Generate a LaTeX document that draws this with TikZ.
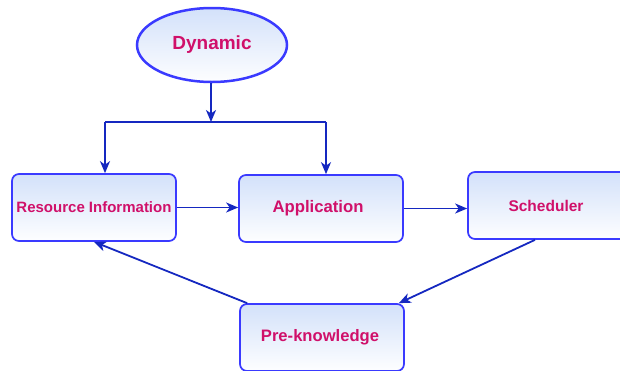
\documentclass[tikz,border=0pt]{standalone}
\usepackage{fontspec}
\setmainfont{Liberation Sans}
\usetikzlibrary{shapes.geometric,arrows.meta}
\definecolor{edgeblue}{HTML}{3A3AFF}
\definecolor{linkblue}{HTML}{1528C0}
\definecolor{labelred}{HTML}{D0106A}
\definecolor{fillblue}{HTML}{D3E1FA}
\tikzset{
  box/.style={draw=edgeblue, line width=1.7pt, rounded corners=7pt,
    top color=fillblue, bottom color=white!97!fillblue,
    minimum width=164pt, minimum height=67pt, inner sep=0pt,
    text=labelred, font=\bfseries},
  oval/.style={ellipse, draw=edgeblue, line width=2.5pt,
    top color=fillblue, bottom color=white!96!fillblue,
    minimum width=150pt, minimum height=74pt, inner sep=0pt,
    text=labelred, font=\fontsize{19}{22}\selectfont\bfseries},
  link/.style={draw=linkblue, line width=1.8pt,
    -{Stealth[length=12pt,width=10pt,inset=3.5pt]}},
  plain/.style={draw=linkblue, line width=1.8pt}
}
\begin{document}
\begin{tikzpicture}[x=1pt,y=-1pt]
\useasboundingbox (0,0) rectangle (620,370);
\begin{scope}
\clip (0,0) rectangle (620,370);
% nodes
\node[oval] (dyn) at (212,45) {\raisebox{-1.5pt}{Dynamic}};
\node[box, font=\fontsize{15}{18}\selectfont\bfseries] (res) at (94,207.5) {Resource Information};
\node[box, font=\fontsize{16.7}{20}\selectfont\bfseries] (app) at (321,208.5) {\hspace*{-6pt}Application};
\node[box, minimum width=160pt, font=\fontsize{15.5}{18}\selectfont\bfseries] (sch) at (548,205.5) {\hspace*{-4pt}Scheduler};
\node[box, font=\fontsize{16.6}{20}\selectfont\bfseries] (pre) at (322,337.5) {\hspace*{-4pt}Pre-knowledge};
% branch from Dynamic
\coordinate (j) at (211,122);
\coordinate (jl) at (105,122);
\coordinate (jr) at (326,122);
\draw[link] (dyn.south -| j) -- (j);
\draw[plain] (jl) -- (jr);
\draw[link] (jl) -- (res.north -| jl);
\draw[link] (jr) -- (app.north -| jr);
% main flow
\draw[link] (res.east) -- (res.east -| app.west);
\draw[link] (app.east) -- (app.east -| sch.west);
\draw[link] ([xshift=-13pt]sch.south) -- ([xshift=-6pt]pre.north east);
\draw[link] ([xshift=8pt]pre.north west) -- (res.south);
\end{scope}
\end{tikzpicture}
\end{document}
